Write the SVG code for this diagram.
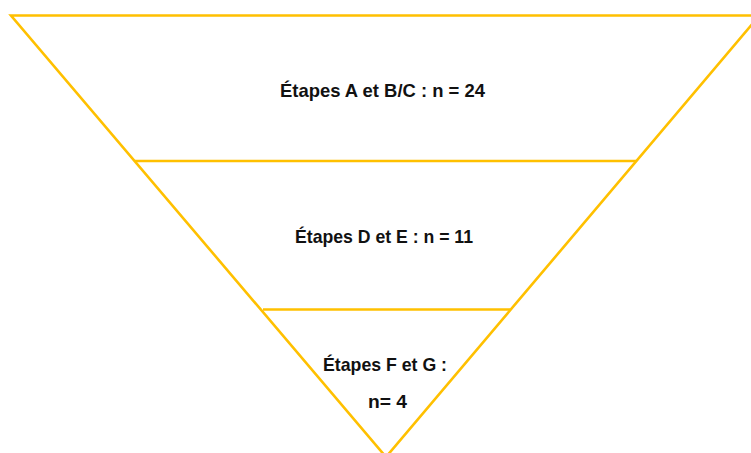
<svg xmlns="http://www.w3.org/2000/svg" width="751" height="453" viewBox="0 0 751 453">
<style>
.ln{stroke:#FFC000;stroke-width:2.6;fill:none;stroke-linejoin:miter}
.t{font-family:"Liberation Sans",Arial,sans-serif;font-weight:bold;font-size:18.5px;fill:#111;text-anchor:middle}
</style>
<rect width="751" height="453" fill="#fff"/>
<g id="funnel">
<polygon class="ln" points="11,15.5 759.5,15.5 386,457"/>
</g>
<g id="connectors">
<line class="ln" x1="135" y1="161" x2="636" y2="161"/>
<line class="ln" x1="263" y1="309.5" x2="510" y2="309.5"/>
</g>
<g id="tier1"><text class="t" x="382.5" y="97" textLength="205" lengthAdjust="spacingAndGlyphs">Étapes A et B/C : n = 24</text></g>
<g id="tier2"><text class="t" x="384" y="243" textLength="178" lengthAdjust="spacingAndGlyphs">Étapes D et E : n = 11</text></g>
<g id="tier3">
<text class="t" x="385" y="371" textLength="124" lengthAdjust="spacingAndGlyphs">Étapes F et G :</text>
<text class="t" x="387.5" y="408" textLength="39" lengthAdjust="spacingAndGlyphs">n= 4</text>
</g>
</svg>
